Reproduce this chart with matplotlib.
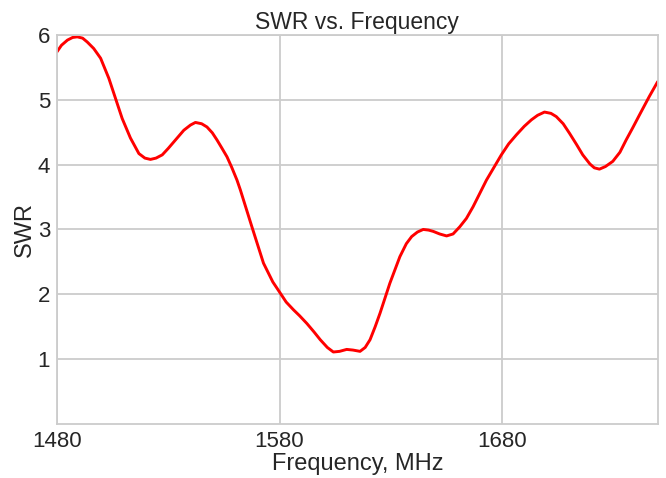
import matplotlib
matplotlib.use("Agg")
import matplotlib.pyplot as plt
import seaborn as sns

sns.set_style("whitegrid")
plt.rcParams['font.family'] = ['Liberation Sans', 'DejaVu Sans']

# frequency (MHz) and SWR
freq = [1480, 1482, 1484.7, 1487, 1489.1, 1491.5, 1493.6, 1496.5, 1499.6, 1503.3,
        1506.3, 1509.3, 1513, 1516.8, 1519.5, 1522, 1524.5, 1527.3, 1530, 1532.5,
        1537, 1540, 1542.2, 1545, 1547.4, 1549.8, 1551.9, 1554, 1556.4, 1558.5,
        1560.9, 1562.4, 1567.6, 1572.8, 1577, 1580.3, 1583, 1586.3, 1589,
        1592.3, 1595.5, 1598.3, 1601.5, 1604.2, 1607, 1610.2, 1613, 1616.2,
        1618.5, 1620.7, 1623, 1625.2, 1629.6, 1634.1, 1637, 1639.4, 1642,
        1644.6, 1647, 1649.1, 1652, 1655.1, 1658, 1661, 1664, 1667, 1673,
        1679.7, 1683, 1686.5, 1690, 1693.2, 1696, 1699.1, 1702, 1704.4, 1707.5,
        1710.4, 1713.5, 1716.3, 1719.5, 1721.5, 1723.8, 1726.5, 1729.8, 1733,
        1735.8, 1738.8, 1741.7, 1746.2, 1750]
swr = [5.74, 5.84, 5.92, 5.96, 5.97, 5.95, 5.89, 5.79, 5.64, 5.33,
       5.02, 4.71, 4.41, 4.17, 4.10, 4.08, 4.10, 4.15, 4.25, 4.35,
       4.53, 4.61, 4.65, 4.63, 4.58, 4.49, 4.38, 4.26, 4.12, 3.96,
       3.76, 3.61, 3.04, 2.48, 2.19, 2.02, 1.88, 1.76, 1.67,
       1.55, 1.42, 1.30, 1.18, 1.11, 1.12, 1.15, 1.14, 1.12,
       1.18, 1.30, 1.50, 1.71, 2.17, 2.58, 2.78, 2.89, 2.96,
       3.00, 2.99, 2.97, 2.93, 2.90, 2.93, 3.04, 3.17, 3.35, 3.76,
       4.15, 4.32, 4.46, 4.59, 4.69, 4.76, 4.81, 4.79, 4.74, 4.63,
       4.48, 4.31, 4.15, 4.01, 3.95, 3.93, 3.97, 4.05, 4.19,
       4.38, 4.57, 4.76, 5.05, 5.28]

fig = plt.figure(figsize=(6.66, 4.78), dpi=100)
ax = fig.add_axes([0.0856, 0.113, 0.902, 0.814])
ax.plot(freq, swr, color='red', linewidth=2.1, solid_joinstyle='round')

ax.set_xlim(1480, 1750)
ax.set_ylim(0, 6)
ax.set_xticks([1480, 1580, 1680])
ax.set_yticks([1, 2, 3, 4, 5, 6])
ax.grid(color='#cccccc', linewidth=1.3)
for s in ax.spines.values():
    s.set_color('#cccccc')
    s.set_linewidth(1.3)
ax.tick_params(labelsize=16, colors='.15', pad=1.5)
ax.set_xlabel('Frequency, MHz', fontsize=17, color='.15', labelpad=1)
ax.set_ylabel('SWR', fontsize=17, color='.15', labelpad=1)
ax.set_title('SWR vs. Frequency', fontsize=16.5, color='.15', pad=4)

fig.savefig('out.png', dpi=100)
